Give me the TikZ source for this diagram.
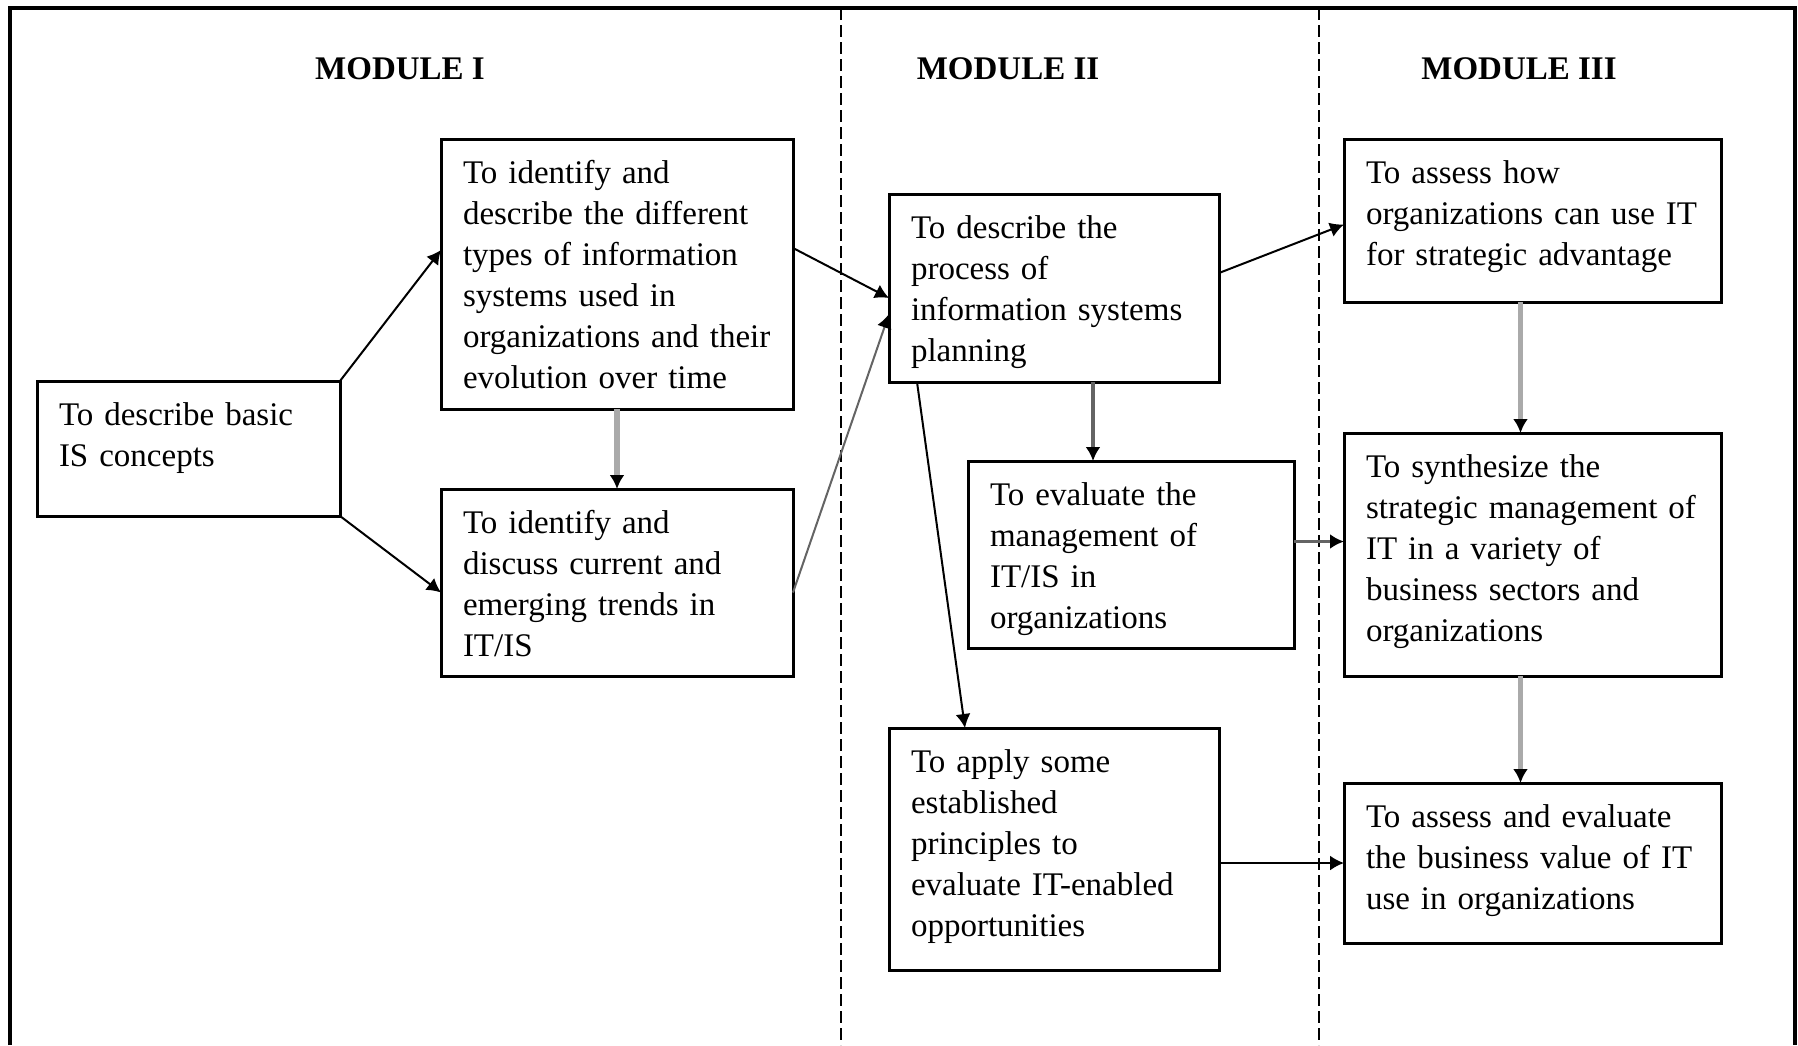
\documentclass[tikz,border=0pt]{standalone}
\usepackage{fontspec}
\setmainfont{Liberation Serif}
\usepackage{tikz}
\usetikzlibrary{positioning,arrows.meta}
\definecolor{objGray}{RGB}{170,170,170}
\definecolor{objDark}{RGB}{100,100,100}

\begin{document}
\begin{tikzpicture}[x=0.5pt, y=-0.5pt,
    >={Latex[length=7pt,width=7.5pt,color=black]},
    objective/.style={draw, line width=1.5pt, anchor=north west, outer sep=0pt, align=left, inner xsep=11pt, inner ysep=0pt, text height=22pt, text width=#1, font=\fontsize{16.5pt}{20.5pt}\selectfont},
    module/.style={anchor=base, font=\bfseries\fontsize{16.5pt}{20pt}\selectfont},
    link/.style={->, line width=1pt},
    greylink/.style={->, line width=2.6pt, objGray},
    darklink/.style={->, line width=1.6pt, objDark}]
    \useasboundingbox (0,0) rectangle (1798,1045);

    % frame and module columns
    \draw[line width=1.8pt] (10,1045) -- (10,8) -- (1795,8) -- (1795,1045);
    \draw[line width=1pt, dash pattern=on 6pt off 2.5pt] (841,8) -- (841,1045);
    \draw[line width=1pt, dash pattern=on 6pt off 2.5pt] (1319,8) -- (1319,1045);

    \node[module] (m1) at (400,79) {MODULE I};
    \node[module] (m2) at (1008,79) {MODULE II};
    \node[module] (m3) at (1519,79) {MODULE III};

    % module I
    \node[objective=129.5pt, text depth=45.5pt] (basic) at (37,381) {To describe basic\\IS concepts};
    \node[objective=154pt, text depth=113pt] (types) at (441,139) {To identify and\\describe the different\\types of information\\systems used in\\organizations and their\\evolution over time};
    \node[objective=154pt, text depth=71.5pt, below=40pt of types] (trends) {To identify and\\discuss current and\\emerging trends in\\IT/IS};

    % module II
    \node[objective=143pt, text depth=72pt] (planning) at (889,194) {To describe the\\process of\\information systems\\planning};
    \node[objective=141pt, text depth=71.5pt] (manage) at (968,461) {To evaluate the\\management of\\IT/IS in\\organizations};
    \node[objective=143pt, text depth=99pt, below=173pt of planning] (apply) {To apply some\\established\\principles to\\evaluate IT-enabled\\opportunities};

    % module III
    \node[objective=166.5pt, text depth=59.5pt] (advantage) at (1344,139) {To assess how\\organizations can use IT\\for strategic advantage};
    \node[objective=166.5pt, text depth=99.5pt, below=65.5pt of advantage] (synth) {To synthesize the\\strategic management of\\IT in a variety of\\business sectors and\\organizations};
    \node[objective=166.5pt, text depth=58pt, below=53.5pt of synth] (value) {To assess and evaluate\\the business value of IT\\use in organizations};

    \draw[link] (basic.north east) -- ([yshift=12pt]types.west);
    \draw[link] (basic.south east) -- ([yshift=-5pt]trends.west);
    \draw[greylink] (types) -- (trends);
    \draw[link] ([yshift=13pt]types.east) -- ([yshift=-5pt]planning.west);
    \draw[link, objDark] ([yshift=-5pt]trends.east) -- ([yshift=-13pt]planning.west);
    \draw[link] ([yshift=7.5pt]planning.east) -- ([yshift=-2pt]advantage.west);
    \draw[darklink] ([xshift=19.5pt]planning.south) -- ([xshift=19.5pt]planning.south |- manage.north);
    \draw[link] ([xshift=14pt]planning.south west) -- ([xshift=38pt]apply.north west);
    \draw[darklink] ([yshift=6.5pt]manage.east) -- ([yshift=6.5pt]manage.east -| synth.west);
    \draw[greylink] ([xshift=-6pt]advantage.south) -- ([xshift=-6pt]synth.north);
    \draw[greylink] ([xshift=-6pt]synth.south) -- ([xshift=-6pt]value.north);
    \draw[link] ([yshift=-7pt]apply.east) -- (value.west);
\end{tikzpicture}
\end{document}
